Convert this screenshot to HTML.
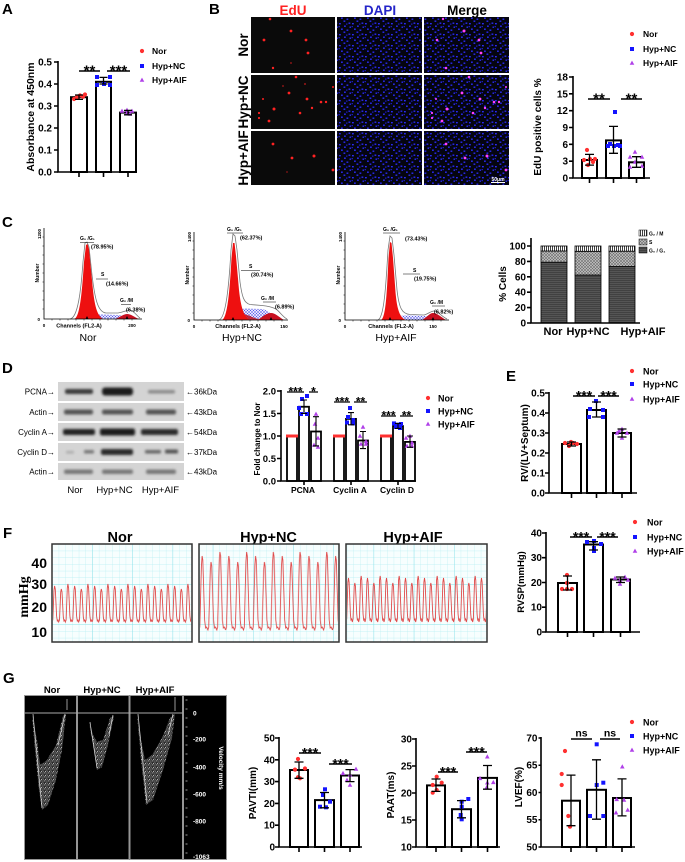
<!DOCTYPE html>
<html><head><meta charset="utf-8"><style>
html,body{margin:0;padding:0;background:#fff;}
svg{display:block;}
text{font-family:"Liberation Sans",Arial,sans-serif;}
.b{font-weight:bold;}
.s{font-family:"Liberation Serif","Times New Roman",serif;font-weight:bold;}
</style></head><body>
<svg width="685" height="862" viewBox="0 0 685 862" xmlns="http://www.w3.org/2000/svg">
<defs>
<circle id="mr" r="2.1" fill="#ff3030"/>
<rect id="mb" x="-2" y="-2" width="4" height="4" fill="#1414ff"/>
<polygon id="mp" points="-2.3,1.8 2.3,1.8 0,-2.4" fill="#b040e8"/>
<pattern id="dapi" width="13" height="11" patternUnits="userSpaceOnUse">
<rect width="13" height="11" fill="#050510"/>
<g fill="#2a2af5"><rect x="1" y="1" width="1.8" height="1.4"/><rect x="6" y="3.5" width="1.8" height="1.4"/><rect x="10.5" y="0.5" width="1.8" height="1.4"/><rect x="3" y="6.5" width="1.8" height="1.4"/><rect x="8.5" y="7.5" width="1.8" height="1.4"/><rect x="11.5" y="4.5" width="1.6" height="1.4"/><rect x="5.5" y="9.5" width="1.8" height="1.4"/></g>
<g fill="#1c1cb8"><rect x="0.5" y="4" width="1.5" height="1.2"/><rect x="8" y="1.5" width="1.5" height="1.2"/></g>
</pattern>
<pattern id="hatch" width="3" height="3" patternUnits="userSpaceOnUse">
<rect width="3" height="3" fill="#e8e8ff"/><path d="M0,3L3,0M0,0L3,3" stroke="#5a5ae8" stroke-width="0.5"/>
</pattern>
<pattern id="pG1" width="2" height="2" patternUnits="userSpaceOnUse"><rect width="2" height="2" fill="#555"/><rect width="2" height="0.7" fill="#383838"/></pattern>
<pattern id="pS" width="3" height="3" patternUnits="userSpaceOnUse"><rect width="3" height="3" fill="#c4c4c4"/><path d="M0,3L3,0M0,0L3,3" stroke="#6a6a6a" stroke-width="0.6"/></pattern>
<pattern id="pG2" width="2" height="2" patternUnits="userSpaceOnUse"><rect width="2" height="2" fill="#fff"/><rect width="0.8" height="2" fill="#111"/></pattern>
<filter id="bl" x="-20%" y="-100%" width="140%" height="300%"><feGaussianBlur stdDeviation="1.3"/></filter>
<pattern id="gridS" width="6.7" height="6.7" patternUnits="userSpaceOnUse" x="52" y="544"><rect width="6.7" height="6.7" fill="#f7fefe"/><path d="M0,0H6.7M0,0V6.7" stroke="#b4eef2" stroke-width="0.6"/></pattern>
<pattern id="gridL" width="40.2" height="40.2" patternUnits="userSpaceOnUse" x="52" y="544"><path d="M0,0H40.2M0,0V40.2" stroke="#7edfe8" stroke-width="0.8" fill="none"/></pattern>
<pattern id="wNor" width="20" height="862" patternUnits="userSpaceOnUse" x="52" y="0"><path d="M0,622 L0.8,620 L2,590 L2.6,586 L3.3,589 L4.6,616 L5.3,621 L6,620 L6.667,622 L7.5,620 L8.7,592 L9.3,589 L10,592 L11.3,617 L12,621 L12.7,620 L13.333,622 L14.1,620 L15.3,588 L15.9,584 L16.6,588 L17.9,616 L18.6,621 L19.3,620 L20,622" stroke="#e04a4a" stroke-width="0.9" fill="none"/></pattern>
<pattern id="wNC" width="26.7" height="862" patternUnits="userSpaceOnUse" x="199" y="0"><path d="M0,630 L0.8,627 L2.4,566 L3.1,556 L3.8,560 L5.6,620 L6.6,628 L7.5,627 L8.9,630 L9.7,627 L11.3,570 L12,562 L12.7,566 L14.5,620 L15.5,628 L16.4,627 L17.8,630 L18.6,627 L20.2,562 L20.9,552 L21.6,556 L23.4,620 L24.4,628 L25.3,627 L26.7,630" stroke="#e04a4a" stroke-width="0.9" fill="none"/></pattern>
<pattern id="wAIF" width="19" height="862" patternUnits="userSpaceOnUse" x="346" y="0"><path d="M0,622 L0.7,619 L1.9,582 L2.5,578 L3.1,582 L4.4,614 L5,620 L5.7,619 L6.333,622 L7.033,619 L8.233,586 L8.833,583 L9.433,586 L10.733,614 L11.333,620 L12.033,619 L12.667,622 L13.367,619 L14.567,580 L15.167,576 L15.767,580 L17.067,614 L17.667,620 L18.367,619 L19,622" stroke="#e04a4a" stroke-width="0.9" fill="none"/></pattern>
<pattern id="spk" width="4" height="4" patternUnits="userSpaceOnUse"><rect width="4" height="4" fill="#2a2a2a"/><rect x="0.3" y="0.4" width="1" height="1" fill="#e0e0e0"/><rect x="2.4" y="1.5" width="1" height="1" fill="#b0b0b0"/><rect x="1.1" y="2.9" width="1" height="1" fill="#cfcfcf"/><rect x="3.1" y="3.2" width="0.8" height="0.8" fill="#888"/><rect x="2.6" y="0" width="0.7" height="0.7" fill="#999"/></pattern>
</defs>
<rect width="685" height="862" fill="#fff"/>

<!-- ============ PANEL A ============ -->
<text x="2" y="14" class="b" font-size="15">A</text>
<text transform="translate(34,117) rotate(-90)" text-anchor="middle" class="b" font-size="10.5">Absorbance at 450nm</text>
<g class="b" font-size="10" text-anchor="end">
<text x="52" y="175.5">0.0</text><text x="52" y="153.5">0.1</text><text x="52" y="131.5">0.2</text><text x="52" y="109.5">0.3</text><text x="52" y="87.5">0.4</text><text x="52" y="65.5">0.5</text>
</g>
<g fill="#fff" stroke="#000" stroke-width="2">
<rect x="71" y="97.2" width="16" height="74.8"/><rect x="96" y="81.8" width="15" height="90.2"/><rect x="120" y="112.6" width="16" height="59.4"/>
</g>
<g stroke="#000" stroke-width="1.6" fill="none">
<path d="M58,61V172H137"/>
<path d="M54,172H58M54,150H58M54,128H58M54,106H58M54,84H58M54,62H58"/>
<path d="M79,172v5M103.5,172v5M128,172v5"/>
</g>
<use href="#mr" x="74" y="99"/><use href="#mr" x="77" y="97"/><use href="#mr" x="80" y="95.5"/><use href="#mr" x="83" y="96.8"/><use href="#mr" x="85" y="94.5"/>
<use href="#mb" x="97" y="77"/><use href="#mb" x="110" y="77"/><use href="#mb" x="97" y="85"/><use href="#mb" x="110" y="85"/><use href="#mb" x="104" y="84"/>
<use href="#mp" x="122" y="111"/><use href="#mp" x="127" y="113"/><use href="#mp" x="132" y="111"/><use href="#mp" x="127" y="110"/><use href="#mp" x="130" y="114"/>
<g stroke="#000" stroke-width="1.3" fill="none">
<path d="M79,99.4V95M75,99.4H83M75,95H83"/>
<path d="M103.5,84V77.4M99.5,84H107.5M99.5,77.4H107.5"/>
<path d="M128,114.8V110.4M124,114.8H132M124,110.4H132"/>
<path d="M79,71H100M107,71H130" stroke-width="1.5"/>
</g>
<g class="b" font-size="15" text-anchor="middle"><text x="89.5" y="75.5">**</text><text x="118.5" y="75.5">***</text></g>
<use href="#mr" x="142" y="51"/><use href="#mb" x="142" y="66"/><use href="#mp" x="142" y="80"/>
<g class="b" font-size="8.5"><text x="152" y="54">Nor</text><text x="152" y="69">Hyp+NC</text><text x="152" y="83">Hyp+AIF</text></g>

<!-- ============ PANEL B ============ -->
<text x="209" y="14" class="b" font-size="15">B</text>
<g class="b" font-size="13.5" text-anchor="middle">
<text x="293" y="15" fill="#ff2020">EdU</text><text x="380" y="15" fill="#2424c8">DAPI</text><text x="467" y="15" fill="#000">Merge</text>
</g>
<g class="b" font-size="13.5" text-anchor="middle">
<text transform="translate(248,45) rotate(-90)">Nor</text>
<text transform="translate(248,102) rotate(-90)">Hyp+NC</text>
<text transform="translate(248,158) rotate(-90)">Hyp+AIF</text>
</g>
<g fill="#0a0a0a">
<rect x="251" y="17" width="84" height="56"/><rect x="251" y="75" width="84" height="54"/><rect x="251" y="131" width="84" height="54"/>
</g>
<g fill="url(#dapi)">
<rect x="337" y="17" width="85" height="56"/><rect x="337" y="75" width="85" height="54"/><rect x="337" y="131" width="85" height="54"/>
<rect x="424" y="17" width="85" height="56"/><rect x="424" y="75" width="85" height="54"/><rect x="424" y="131" width="85" height="54"/>
</g>
<g fill="#ff2222">
<circle cx="270" cy="19" r="1.3"/><circle cx="291" cy="31" r="1.4"/><circle cx="264" cy="40" r="1.4"/><circle cx="306" cy="40" r="1.4"/><circle cx="308" cy="53" r="1.4"/><circle cx="273" cy="68" r="1.2"/><circle cx="291" cy="63" r="1" opacity=".5"/>
<circle cx="296" cy="77" r="1.3"/><circle cx="289" cy="93" r="1.4"/><circle cx="263" cy="99" r="1"/><circle cx="307" cy="99" r="1.4"/><circle cx="274" cy="109" r="1.5"/><circle cx="300" cy="113" r="1.3"/><circle cx="312" cy="108" r="1.2"/><circle cx="321" cy="102" r="1.3"/><circle cx="326" cy="102" r="1.2"/><circle cx="259" cy="113" r="1.1"/><circle cx="259" cy="118" r="1.1"/><circle cx="269" cy="121" r="1.4"/><circle cx="333" cy="87" r="1"/><circle cx="283" cy="86" r="1" opacity=".5"/><circle cx="305" cy="84" r="1" opacity=".6"/>
<circle cx="273" cy="144" r="1.4"/><circle cx="292" cy="158" r="1.4"/><circle cx="314" cy="156" r="1.5"/><circle cx="333" cy="170" r="1.4"/><circle cx="287" cy="172" r="1" opacity=".4"/>
</g>
<g fill="#ff40ff">
<circle cx="443" cy="19" r="1.2"/><circle cx="464" cy="31" r="1.5"/><circle cx="437" cy="40" r="1.3"/><circle cx="479" cy="40" r="1.4"/><circle cx="481" cy="53" r="1.4"/><circle cx="446" cy="68" r="1.3"/>
<circle cx="469" cy="77" r="1.3"/><circle cx="462" cy="93" r="1.4"/><circle cx="436" cy="99" r="1"/><circle cx="480" cy="99" r="1.4"/><circle cx="447" cy="109" r="1.5"/><circle cx="473" cy="113" r="1.3"/><circle cx="485" cy="108" r="1.2"/><circle cx="494" cy="102" r="1.3"/><circle cx="499" cy="102" r="1.2"/><circle cx="432" cy="113" r="1.1"/><circle cx="432" cy="118" r="1.1"/><circle cx="442" cy="121" r="1.4"/><circle cx="506" cy="87" r="1"/>
<circle cx="446" cy="144" r="1.4"/><circle cx="465" cy="158" r="1.4"/><circle cx="487" cy="156" r="1.5"/><circle cx="506" cy="170" r="1.4"/>
</g>
<path d="M491,182.5H505" stroke="#fff" stroke-width="1"/>
<text x="498" y="181" fill="#fff" font-size="5" class="b" text-anchor="middle">50μm</text>

<text transform="translate(541,127) rotate(-90)" text-anchor="middle" class="b" font-size="10">EdU positive cells %</text>
<g class="b" font-size="10" text-anchor="end">
<text x="568" y="181.5">0</text><text x="568" y="164.7">3</text><text x="568" y="147.8">6</text><text x="568" y="131">9</text><text x="568" y="114.2">12</text><text x="568" y="97.3">15</text><text x="568" y="80.5">18</text>
</g>
<g fill="#fff" stroke="#000" stroke-width="2">
<rect x="582" y="160" width="15" height="18"/><rect x="606" y="140.4" width="15" height="37.6"/><rect x="629" y="162.3" width="15" height="15.7"/>
</g>
<g stroke="#000" stroke-width="1.6" fill="none">
<path d="M573,76V178H650"/>
<path d="M569,178H573M569,161.2H573M569,144.3H573M569,127.5H573M569,110.7H573M569,93.8H573M569,77H573"/>
<path d="M589.5,178v5M613.5,178v5M636.5,178v5"/>
</g>
<use href="#mr" x="587" y="150"/><use href="#mr" x="584" y="160"/><use href="#mr" x="590" y="159"/><use href="#mr" x="595" y="159"/><use href="#mr" x="588" y="165"/><use href="#mr" x="593" y="162"/>
<use href="#mb" x="615" y="112"/><use href="#mb" x="610" y="144"/><use href="#mb" x="614" y="146"/><use href="#mb" x="618" y="145"/><use href="#mb" x="608" y="146"/><use href="#mb" x="620" y="146"/>
<use href="#mp" x="635" y="152"/><use href="#mp" x="630" y="157"/><use href="#mp" x="642" y="157"/><use href="#mp" x="635" y="162"/><use href="#mp" x="630" y="167"/><use href="#mp" x="642" y="166"/>
<g stroke="#000" stroke-width="1.3" fill="none">
<path d="M589.5,165.1V154.4M585,165.1H594M585,154.4H594"/>
<path d="M613.5,153.3V126.4M609,153.3H618M609,126.4H618"/>
<path d="M636.5,167.3V156.7M632,167.3H641M632,156.7H641"/>
<path d="M588,99H610M621,99H642" stroke-width="1.5"/>
</g>
<g class="b" font-size="15" text-anchor="middle"><text x="599" y="103.5">**</text><text x="631.5" y="103.5">**</text></g>
<use href="#mr" x="632" y="34"/><use href="#mb" x="632" y="49"/><use href="#mp" x="632" y="63"/>
<g class="b" font-size="8.5"><text x="643" y="37">Nor</text><text x="643" y="52">Hyp+NC</text><text x="643" y="66">Hyp+AIF</text></g>

<!-- ============ PANEL C ============ -->
<text x="2" y="227" class="b" font-size="15">C</text>
<g>
<path d="M70,319 C78,318 81,290 83,262 L85,243 L87,242 L89,247 L92,275 C95,300 98,312 106,313 L118,313 C124,312 127,310 130,310 C134,311 137,316 140,318" fill="#fff" stroke="#777" stroke-width="0.8"/>
<path d="M88,319 C92,315 97,314 104,314.5 L118,315 C122,315 125,317 128,319 Z" fill="url(#hatch)"/>
<path d="M74,319 C80,318 82,292 84,262 L86,245 L87.5,244 L89,249 L92,280 C94,302 96,315 103,319 Z" fill="#ee1010"/>
<path d="M115,319 C120,317 124,314 127,314 C131,314 134,317 139,319 Z" fill="#c81020"/>
<path d="M44,228V319H142" stroke="#000" stroke-width="0.8" fill="none"/>
<path d="M42.5,237H44M42.5,246H44M42.5,255H44M42.5,264H44M42.5,273H44M42.5,282H44M42.5,291H44M42.5,300H44M42.5,309H44M52,319v1.5M60,319v1.5M68,319v1.5M76,319v1.5M84,319v1.5M92,319v1.5M100,319v1.5M108,319v1.5M116,319v1.5M124,319v1.5M132,319v1.5" stroke="#000" stroke-width="0.5"/>
<polygon points="85.5,319 88.5,319 87,316" fill="#000"/><polygon points="125.5,319 128.5,319 127,316" fill="#000"/>
<g class="b" font-size="5"><text transform="translate(41,234) rotate(-90)" text-anchor="middle" font-size="4.5">1200</text><text transform="translate(39,273) rotate(-90)" text-anchor="middle">Number</text><text x="40" y="321" text-anchor="end" font-size="4.5">0</text><text x="44" y="327" text-anchor="middle" font-size="4.5">0</text><text x="132" y="327" text-anchor="middle" font-size="4.5">200</text><text x="79" y="327.5" text-anchor="middle" font-size="5.5">Channels (FL2-A)</text>
<text x="80" y="240">G₀ /G₁</text><text x="91" y="248.5" font-size="5.5">(78.95%)</text><text x="101" y="276">S</text><text x="106" y="285.5" font-size="5.5">(14.66%)</text><text x="120" y="302">G₂ /M</text><text x="126" y="311.5" font-size="5.5">(6.38%)</text></g>
<path d="M80,242.5H94M96,279H108M121,304.5H131" stroke="#000" stroke-width="0.5"/>
</g>
<g>
<path d="M219,320 C226,318 229,285 231,250 L233,234 L235,236 L237,250 L240,282 C242,297 244,303 250,304.5 L262,305.5 C268,306 272,307 276,309 C280,312 283,317 287,319" fill="#fff" stroke="#777" stroke-width="0.8"/>
<path d="M230,320 C234,314 238,309 245,308.5 L262,309 C268,310 273,315 278,320 Z" fill="url(#hatch)"/>
<path d="M228,320 C236,316 240,313 244,314 L250,316 C254,318 258,319 262,320 Z" fill="#c01020" opacity=".85"/>
<path d="M222,320 C228,318 230,285 231.5,258 L233,243 L234.5,243 L236,256 L239,290 C241,308 244,317 250,320 Z" fill="#ee1010"/>
<path d="M258,320 C263,316 267,313 271,313 C275,313 279,317 284,320 Z" fill="#c81020"/>
<path d="M194,232V320H288" stroke="#000" stroke-width="0.8" fill="none"/>
<path d="M192.5,241H194M192.5,250H194M192.5,259H194M192.5,268H194M192.5,277H194M192.5,286H194M192.5,295H194M192.5,304H194M192.5,313H194M202,320v1.5M210,320v1.5M218,320v1.5M226,320v1.5M234,320v1.5M242,320v1.5M250,320v1.5M258,320v1.5M266,320v1.5M274,320v1.5M282,320v1.5" stroke="#000" stroke-width="0.5"/>
<polygon points="231.5,320 234.5,320 233,317" fill="#000"/><polygon points="269.5,320 272.5,320 271,317" fill="#000"/>
<g class="b" font-size="5"><text transform="translate(191,237) rotate(-90)" text-anchor="middle" font-size="4.5">1400</text><text transform="translate(189,275) rotate(-90)" text-anchor="middle">Number</text><text x="190" y="322" text-anchor="end" font-size="4.5">0</text><text x="194" y="328" text-anchor="middle" font-size="4.5">0</text><text x="284" y="328" text-anchor="middle" font-size="4.5">150</text><text x="238" y="328" text-anchor="middle" font-size="5.5">Channels (FL2-A)</text>
<text x="227" y="231">G₀ /G₁</text><text x="240" y="239.5" font-size="5.5">(62.37%)</text><text x="249" y="268">S</text><text x="251" y="276.5" font-size="5.5">(30.74%)</text><text x="261" y="300">G₂ /M</text><text x="275" y="308.5" font-size="5.5">(6.89%)</text></g>
<path d="M227,233H243M241,270.5H260M263,302H276" stroke="#000" stroke-width="0.5"/>
</g>
<g>
<path d="M378,320 C384,318 386,285 388,250 L390,236 L392,238 L394,255 L397,290 C399,308 402,314 410,314.5 L424,315 C428,314 431,311 434,311 C438,311 441,316 447,319" fill="#fff" stroke="#777" stroke-width="0.8"/>
<path d="M392,320 C396,316 400,315.5 408,315.5 L426,316 C430,316 432,318 434,320 Z" fill="url(#hatch)"/>
<path d="M381,320 C386,318 387,290 388.5,258 L390,242 L391.5,243 L393,258 L395.5,292 C397,310 400,318 406,320 Z" fill="#ee1010"/>
<path d="M422,320 C427,317 430,313 433,313 C437,313 441,317 446,320 Z" fill="#c81020"/>
<path d="M345,232V320H449" stroke="#000" stroke-width="0.8" fill="none"/>
<path d="M343.5,241H345M343.5,250H345M343.5,259H345M343.5,268H345M343.5,277H345M343.5,286H345M343.5,295H345M343.5,304H345M343.5,313H345M353,320v1.5M361,320v1.5M369,320v1.5M377,320v1.5M385,320v1.5M393,320v1.5M401,320v1.5M409,320v1.5M417,320v1.5M425,320v1.5M433,320v1.5M441,320v1.5" stroke="#000" stroke-width="0.5"/>
<polygon points="388.5,320 391.5,320 390,317" fill="#000"/><polygon points="431.5,320 434.5,320 433,317" fill="#000"/>
<g class="b" font-size="5"><text transform="translate(342,237) rotate(-90)" text-anchor="middle" font-size="4.5">1400</text><text transform="translate(340,275) rotate(-90)" text-anchor="middle">Number</text><text x="341" y="322" text-anchor="end" font-size="4.5">0</text><text x="345" y="328" text-anchor="middle" font-size="4.5">0</text><text x="433" y="328" text-anchor="middle" font-size="4.5">150</text><text x="391" y="328" text-anchor="middle" font-size="5.5">Channels (FL2-A)</text>
<text x="383" y="231">G₀ /G₁</text><text x="405" y="240.5" font-size="5.5">(73.43%)</text><text x="413" y="272">S</text><text x="414" y="280.5" font-size="5.5">(19.75%)</text><text x="430" y="304">G₂ /M</text><text x="434" y="313.5" font-size="5.5">(6.82%)</text></g>
<path d="M383,233H400M403,274H420M432,306H445" stroke="#000" stroke-width="0.5"/>
</g>
<g font-size="10.5" text-anchor="middle"><text x="88" y="341">Nor</text><text x="242" y="341">Hyp+NC</text><text x="396" y="341">Hyp+AIF</text></g>

<text transform="translate(506,284) rotate(-90)" text-anchor="middle" class="b" font-size="10">% Cells</text>
<g class="b" font-size="10" text-anchor="end">
<text x="526" y="326.5">0</text><text x="526" y="311">20</text><text x="526" y="295.7">40</text><text x="526" y="280.3">60</text><text x="526" y="264.9">80</text><text x="526" y="249.5">100</text>
</g>
<g stroke="#000" stroke-width="0.8">
<rect x="541" y="262.2" width="26" height="60.8" fill="url(#pG1)"/><rect x="541" y="251" width="26" height="11.2" fill="url(#pS)"/><rect x="541" y="246" width="26" height="5" fill="url(#pG2)"/>
<rect x="575" y="275" width="26" height="48" fill="url(#pG1)"/><rect x="575" y="251.3" width="26" height="23.7" fill="url(#pS)"/><rect x="575" y="246" width="26" height="5.3" fill="url(#pG2)"/>
<rect x="609" y="266.5" width="26" height="56.5" fill="url(#pG1)"/><rect x="609" y="251.2" width="26" height="15.3" fill="url(#pS)"/><rect x="609" y="246" width="26" height="5.2" fill="url(#pG2)"/>
</g>
<g stroke="#000" stroke-width="1.6" fill="none">
<path d="M531,238V323H640"/>
<path d="M527,323H531M527,307.6H531M527,292.2H531M527,276.8H531M527,261.4H531M527,246H531"/>
</g>
<g class="b" font-size="11" text-anchor="middle"><text x="553" y="335">Nor</text><text x="588" y="335">Hyp+NC</text><text x="643" y="335">Hyp+AIF</text></g>
<g stroke="#000" stroke-width="0.5"><rect x="639" y="230" width="8" height="6" fill="url(#pG2)"/><rect x="639" y="239" width="8" height="6" fill="url(#pS)"/><rect x="639" y="247" width="8" height="6" fill="url(#pG1)"/></g>
<g class="b" font-size="5"><text x="649" y="235.5">G₂ / M</text><text x="649" y="244">S</text><text x="649" y="252.5">G₀ / G₁</text></g>

<!-- ============ PANEL D ============ -->
<text x="2" y="373" class="b" font-size="15">D</text>
<g fill="#d4d4d4">
<rect x="58" y="382" width="126" height="19"/><rect x="58" y="403" width="126" height="18"/><rect x="58" y="423" width="126" height="18"/><rect x="58" y="443" width="126" height="18"/><rect x="58" y="463" width="126" height="17"/>
</g>
<g filter="url(#bl)">
<rect x="65" y="389" width="28" height="5" rx="2" fill="#3a3a3a"/><rect x="102" y="387.5" width="31" height="8" rx="3" fill="#1e1e1e"/><rect x="148" y="390" width="27" height="3.5" rx="1.5" fill="#8a8a8a"/>
<rect x="64" y="409.5" width="29" height="5" rx="2" fill="#555"/><rect x="102" y="409.5" width="31" height="5" rx="2" fill="#555"/><rect x="146" y="409.5" width="30" height="5" rx="2" fill="#555"/>
<rect x="63" y="429" width="32" height="6" rx="2" fill="#222"/><rect x="100" y="428.5" width="35" height="7" rx="2" fill="#1a1a1a"/><rect x="141" y="429" width="37" height="6" rx="2" fill="#2a2a2a"/>
<rect x="66" y="451" width="8" height="2.5" rx="1" fill="#aaa"/><rect x="84" y="450" width="10" height="3.5" rx="1" fill="#777"/><rect x="101" y="449" width="32" height="6" rx="2" fill="#2a2a2a"/><rect x="145" y="450" width="16" height="3.5" rx="1" fill="#666"/><rect x="165" y="449.5" width="13" height="4" rx="1" fill="#555"/>
<rect x="64" y="469.5" width="29" height="4.5" rx="2" fill="#777"/><rect x="102" y="469.5" width="31" height="4.5" rx="2" fill="#777"/><rect x="146" y="469.5" width="30" height="4.5" rx="2" fill="#777"/>
</g>
<g font-size="8" text-anchor="end"><text x="55" y="394.5">PCNA→</text><text x="55" y="415">Actin→</text><text x="55" y="435">Cyclin A→</text><text x="55" y="455">Cyclin D→</text><text x="55" y="474.5">Actin→</text></g>
<g font-size="8"><text x="186" y="394.5">←36kDa</text><text x="186" y="415">←43kDa</text><text x="186" y="435">←54kDa</text><text x="186" y="455">←37kDa</text><text x="186" y="474.5">←43kDa</text></g>
<g font-size="9.5" text-anchor="middle"><text x="75" y="493">Nor</text><text x="114.5" y="493">Hyp+NC</text><text x="160.5" y="493">Hyp+AIF</text></g>

<text transform="translate(260,439) rotate(-90)" text-anchor="middle" class="b" font-size="8">Fold change to Nor</text>
<g class="b" font-size="9.5" text-anchor="end">
<text x="276" y="484.5">0.0</text><text x="276" y="462">0.5</text><text x="276" y="439.5">1.0</text><text x="276" y="417">1.5</text><text x="276" y="394.5">2.0</text>
</g>
<g fill="#fff" stroke="#000" stroke-width="1.8">
<rect x="287" y="436" width="10" height="45"/><rect x="299" y="406.75" width="10" height="74.25"/><rect x="311" y="431.5" width="10" height="49.5"/>
<rect x="334" y="436" width="10" height="45"/><rect x="346" y="418.9" width="10" height="62.1"/><rect x="358" y="440.5" width="10" height="40.5"/>
<rect x="381" y="436" width="10" height="45"/><rect x="393" y="426.1" width="10" height="54.9"/><rect x="405" y="441.9" width="10" height="39.1"/>
</g>
<g fill="#ff3030"><rect x="286" y="434.5" width="12" height="3"/><rect x="333" y="434.5" width="12" height="3"/><rect x="380" y="434.5" width="12" height="3"/></g>
<g stroke="#000" stroke-width="1.6" fill="none">
<path d="M281,390V481H416"/>
<path d="M277,481H281M277,458.5H281M277,436H281M277,413.5H281M277,391H281"/>
<path d="M304,481v4M351,481v4M398,481v4"/>
</g>
<use href="#mb" x="302" y="399"/><use href="#mb" x="307" y="396"/><use href="#mb" x="299" y="408"/><use href="#mb" x="301" y="414"/><use href="#mb" x="307" y="414"/>
<use href="#mp" x="316" y="414"/><use href="#mp" x="315" y="424"/><use href="#mp" x="318" y="438"/><use href="#mp" x="314" y="445"/><use href="#mp" x="318" y="447"/>
<use href="#mb" x="350" y="408"/><use href="#mb" x="348" y="417"/><use href="#mb" x="353" y="420"/><use href="#mb" x="347" y="422.5"/><use href="#mb" x="353" y="423.4"/>
<use href="#mp" x="363" y="427"/><use href="#mp" x="360" y="436"/><use href="#mp" x="366" y="441.4"/><use href="#mp" x="361" y="444"/><use href="#mp" x="366" y="444"/>
<use href="#mb" x="394" y="423.4"/><use href="#mb" x="397" y="424.75"/><use href="#mb" x="401" y="424"/><use href="#mb" x="396" y="427"/><use href="#mb" x="400" y="428"/>
<use href="#mp" x="410" y="436"/><use href="#mp" x="406" y="438"/><use href="#mp" x="412" y="442.75"/><use href="#mp" x="407" y="446"/><use href="#mp" x="412" y="446"/>
<g stroke="#000" stroke-width="1.1" fill="none">
<path d="M304,413.5V400M301,413.5H307M301,400H307"/>
<path d="M316,445.9V416.7M313,445.9H319M313,416.7H319"/>
<path d="M351,424.8V412.6M348,424.8H354M348,412.6H354"/>
<path d="M363,448.6V431.5M360,448.6H366M360,431.5H366"/>
<path d="M398,428.4V423.4M395,428.4H401M395,423.4H401"/>
<path d="M410,447.3V436M407,447.3H413M407,436H413"/>
<path d="M287,392H304M309,392H318M334,402H350M354,402H367M381,416H396M400,416H413" stroke-width="1.3"/>
</g>
<g class="b" font-size="12" text-anchor="middle"><text x="295.5" y="395.5">***</text><text x="313.5" y="395.5">*</text><text x="342" y="405.5">***</text><text x="360.5" y="405.5">**</text><text x="388.5" y="419.5">***</text><text x="406.5" y="419.5">**</text></g>
<g class="b" font-size="8.5" text-anchor="middle"><text x="303" y="493">PCNA</text><text x="350" y="493">Cyclin A</text><text x="397" y="493">Cyclin D</text></g>
<use href="#mr" x="428" y="398"/><use href="#mb" x="428" y="411"/><use href="#mp" x="428" y="424"/>
<g class="b" font-size="9"><text x="438" y="401.5">Nor</text><text x="438" y="414.5">Hyp+NC</text><text x="438" y="427.5">Hyp+AIF</text></g>

<!-- ============ PANEL E ============ -->
<text x="506" y="381" class="b" font-size="15">E</text>
<text transform="translate(528,443) rotate(-90)" text-anchor="middle" class="b" font-size="10">RV/(LV+Septum)</text>
<g class="b" font-size="10" text-anchor="end">
<text x="545" y="496.5">0.0</text><text x="545" y="476.5">0.1</text><text x="545" y="456.5">0.2</text><text x="545" y="436.5">0.3</text><text x="545" y="416.5">0.4</text><text x="545" y="396.5">0.5</text>
</g>
<g fill="#fff" stroke="#000" stroke-width="2">
<rect x="562" y="444" width="19" height="49"/><rect x="587" y="410" width="19" height="83"/><rect x="613" y="433" width="18" height="60"/>
</g>
<g stroke="#000" stroke-width="1.6" fill="none">
<path d="M549,392V493H637"/>
<path d="M545,493H549M545,473H549M545,453H549M545,433H549M545,413H549M545,393H549"/>
<path d="M571.5,493v5M596.5,493v5M622,493v5"/>
</g>
<use href="#mr" x="565" y="443"/><use href="#mr" x="569" y="446"/><use href="#mr" x="573" y="443"/><use href="#mr" x="577" y="444"/><use href="#mr" x="571" y="442"/>
<use href="#mb" x="596" y="401"/><use href="#mb" x="590" y="409"/><use href="#mb" x="603" y="410"/><use href="#mb" x="589" y="417"/><use href="#mb" x="603" y="417"/>
<use href="#mp" x="622" y="429"/><use href="#mp" x="617" y="433"/><use href="#mp" x="627" y="433"/><use href="#mp" x="622" y="438"/><use href="#mp" x="619" y="431"/>
<g stroke="#000" stroke-width="1.3" fill="none">
<path d="M571.5,446V442M567,446H576M567,442H576"/>
<path d="M596.5,417V402M592,417H601M592,402H601"/>
<path d="M622,437V429M617.5,437H626.5M617.5,429H626.5"/>
<path d="M573,396H595M598,396H619" stroke-width="1.5"/>
</g>
<g class="b" font-size="14" text-anchor="middle"><text x="584" y="400.5">***</text><text x="608.5" y="400.5">***</text></g>
<use href="#mr" x="632" y="371"/><use href="#mb" x="632" y="384"/><use href="#mp" x="632" y="399"/>
<g class="b" font-size="9"><text x="643" y="374.5">Nor</text><text x="643" y="387.5">Hyp+NC</text><text x="643" y="402.5">Hyp+AIF</text></g>

<!-- ============ PANEL F ============ -->
<text x="3" y="538" class="b" font-size="15">F</text>
<g class="b" font-size="14.5" text-anchor="middle"><text x="120" y="542">Nor</text><text x="268.5" y="542">Hyp+NC</text><text x="413" y="542">Hyp+AIF</text></g>
<g class="s" font-size="14" text-anchor="end"><text x="47" y="568">40</text><text x="47" y="589">30</text><text x="47" y="612">20</text><text x="47" y="637">10</text></g>
<text transform="translate(28,597) rotate(-90)" text-anchor="middle" class="s" font-size="14">mmHg</text>
<rect x="52" y="544" width="140" height="98" fill="url(#gridS)"/><rect x="52" y="544" width="140" height="98" fill="url(#gridL)"/>
<rect x="199" y="544" width="140" height="98" fill="url(#gridS)"/><rect x="199" y="544" width="140" height="98" fill="url(#gridL)"/>
<rect x="346" y="544" width="141" height="98" fill="url(#gridS)"/><rect x="346" y="544" width="141" height="98" fill="url(#gridL)"/>
<rect x="53" y="545" width="138" height="96" fill="url(#wNor)"/>
<rect x="200" y="545" width="138" height="96" fill="url(#wNC)"/>
<rect x="347" y="545" width="139" height="96" fill="url(#wAIF)"/>
<g fill="none" stroke="#333" stroke-width="1.5"><rect x="52" y="544" width="140" height="98"/><rect x="199" y="544" width="140" height="98"/><rect x="346" y="544" width="141" height="98"/></g>

<text transform="translate(524,582) rotate(-90)" text-anchor="middle" class="b" font-size="9.5">RVSP(mmHg)</text>
<g class="b" font-size="10" text-anchor="end">
<text x="542" y="635.5">0</text><text x="542" y="610.7">10</text><text x="542" y="586">20</text><text x="542" y="561.2">30</text><text x="542" y="536.5">40</text>
</g>
<g fill="#fff" stroke="#000" stroke-width="2">
<rect x="558" y="583" width="19" height="49"/><rect x="584" y="544.5" width="19" height="87.5"/><rect x="611" y="579.5" width="19" height="52.5"/>
</g>
<g stroke="#000" stroke-width="1.6" fill="none">
<path d="M546,532V632H640"/>
<path d="M542,632H546M542,607.2H546M542,582.5H546M542,557.7H546M542,533H546"/>
<path d="M567.5,632v5M593.5,632v5M620.5,632v5"/>
</g>
<use href="#mr" x="567" y="575"/><use href="#mr" x="567" y="583"/><use href="#mr" x="562" y="589"/><use href="#mr" x="572" y="589"/><use href="#mr" x="567" y="589"/>
<use href="#mb" x="587" y="542"/><use href="#mb" x="594" y="541"/><use href="#mb" x="601" y="544"/><use href="#mb" x="594" y="548"/><use href="#mb" x="594" y="551"/>
<use href="#mp" x="625" y="577"/><use href="#mp" x="615" y="578"/><use href="#mp" x="620" y="580"/><use href="#mp" x="628" y="580"/><use href="#mp" x="620" y="584"/>
<g stroke="#000" stroke-width="1.3" fill="none">
<path d="M567.5,590V576M563,590H572M563,576H572"/>
<path d="M593.5,550V541.7M589,550H598M589,541.7H598"/>
<path d="M620.5,582.5V577M616,582.5H625M616,577H625"/>
<path d="M570,537H592M597,537H618" stroke-width="1.5"/>
</g>
<g class="b" font-size="14" text-anchor="middle"><text x="581" y="541.5">***</text><text x="607.5" y="541.5">***</text></g>
<use href="#mr" x="635" y="522"/><use href="#mb" x="635" y="537"/><use href="#mp" x="635" y="551"/>
<g class="b" font-size="9"><text x="647" y="525.5">Nor</text><text x="647" y="540.5">Hyp+NC</text><text x="647" y="554.5">Hyp+AIF</text></g>

<!-- ============ PANEL G ============ -->
<text x="3" y="683" class="b" font-size="15">G</text>
<g class="s" font-size="9.5" text-anchor="middle"><text x="52" y="693">Nor</text><text x="102" y="693">Hyp+NC</text><text x="155" y="693">Hyp+AIF</text></g>
<rect x="24" y="695" width="203" height="165" fill="#000"/>
<g stroke="#bbb" stroke-width="0.8" fill="none">
<rect x="24.5" y="695.5" width="52" height="164"/><rect x="77.5" y="695.5" width="51.5" height="164"/><rect x="130" y="695.5" width="52.5" height="164"/><rect x="183.5" y="695.5" width="43" height="164"/>
<path d="M24.5,713H182.5" stroke="#aaa" stroke-width="0.9"/>
</g>
<polygon points="32,714 35,750 39,790 42,810 48,805 56,780 62,750 66,714 63,716 56,745 47,760 40,765 37,740" fill="url(#spk)"/>
<polygon points="89,722 93,745 97,770 102,767 108,745 114,716 110,718 103,740 97,742 93,735" fill="url(#spk)"/>
<polygon points="137,714 141,760 146,805 153,800 163,770 172,738 175,714 170,718 162,738 152,755 145,760 141,740" fill="url(#spk)"/>
<g stroke="#ddd" stroke-width="0.7" fill="none"><path d="M33,714 L42,808M65,714 L58,745M90,722 L97,768M113,715 L109,735M138,714 L147,803M173,714 L168,735"/></g>
<path d="M67,699V710M175,697V711" stroke="#999" stroke-width="1"/>
<path d="M185.5,700h2M185.5,709h2M185.5,718h2M185.5,727h2M185.5,736h2M185.5,745h2M185.5,754h2M185.5,763h2M185.5,772h2M185.5,781h2M185.5,790h2M185.5,799h2M185.5,808h2M185.5,817h2M185.5,826h2M185.5,835h2M185.5,844h2M185.5,853h2" stroke="#ccc" stroke-width="0.7"/>
<g class="b" font-size="6.5" fill="#fff"><text x="193" y="715.5">0</text><text x="193" y="741.5">-200</text><text x="193" y="769.5">-400</text><text x="193" y="796.5">-600</text><text x="193" y="823.5">-800</text><text x="193" y="859">-1063</text></g>
<text transform="translate(219,768) rotate(90)" text-anchor="middle" class="b" font-size="6.5" fill="#fff">Velocity mm/s</text>

<!-- PAVTI -->
<text transform="translate(256,793) rotate(-90)" text-anchor="middle" class="b" font-size="10">PAVTI(mm)</text>
<g class="b" font-size="10" text-anchor="end">
<text x="275" y="850.5">0</text><text x="275" y="828.7">10</text><text x="275" y="806.9">20</text><text x="275" y="785.1">30</text><text x="275" y="763.3">40</text><text x="275" y="741.5">50</text>
</g>
<g fill="#fff" stroke="#000" stroke-width="2">
<rect x="290" y="770" width="18" height="77"/><rect x="315" y="800.1" width="19" height="46.9"/><rect x="341" y="775.5" width="18" height="71.5"/>
</g>
<g stroke="#000" stroke-width="1.6" fill="none">
<path d="M279,737V847H362"/>
<path d="M275,847H279M275,825.2H279M275,803.4H279M275,781.6H279M275,759.8H279M275,738H279"/>
<path d="M299,847v5M324.5,847v5M350,847v5"/>
</g>
<use href="#mr" x="298" y="759"/><use href="#mr" x="295" y="769.6"/><use href="#mr" x="305" y="768.5"/><use href="#mr" x="298" y="777.2"/><use href="#mr" x="300" y="778.3"/>
<use href="#mb" x="325" y="789.3"/><use href="#mb" x="323" y="795"/><use href="#mb" x="330" y="801.7"/><use href="#mb" x="320" y="806.7"/><use href="#mb" x="326" y="807.3"/>
<use href="#mp" x="343" y="773.3"/><use href="#mp" x="356" y="769"/><use href="#mp" x="350" y="775"/><use href="#mp" x="347" y="780"/><use href="#mp" x="350" y="785"/>
<g stroke="#000" stroke-width="1.3" fill="none">
<path d="M299,778.3V762M294.5,778.3H303.5M294.5,762H303.5"/>
<path d="M324.5,807.8V792.5M320,807.8H329M320,792.5H329"/>
<path d="M350,781.6V769.6M345.5,781.6H354.5M345.5,769.6H354.5"/>
<path d="M299,753H321M329,764H352" stroke-width="1.5"/>
</g>
<g class="b" font-size="14" text-anchor="middle"><text x="310" y="757.5">***</text><text x="340.5" y="768.5">***</text></g>

<!-- PAAT -->
<text transform="translate(394,795) rotate(-90)" text-anchor="middle" class="b" font-size="10">PAAT(ms)</text>
<g class="b" font-size="10" text-anchor="end">
<text x="412" y="850.5">10</text><text x="412" y="823.5">15</text><text x="412" y="796.5">20</text><text x="412" y="769.5">25</text><text x="412" y="742.5">30</text>
</g>
<g fill="#fff" stroke="#000" stroke-width="2">
<rect x="427" y="785.4" width="18" height="61.6"/><rect x="452" y="809.2" width="19" height="37.8"/><rect x="478" y="777.9" width="19" height="69.1"/>
</g>
<g stroke="#000" stroke-width="1.6" fill="none">
<path d="M416,738V847H500"/>
<path d="M412,847H416M412,820H416M412,793H416M412,766H416M412,739H416"/>
<path d="M436,847v5M461.5,847v5M487.5,847v5"/>
</g>
<use href="#mr" x="436.7" y="776.7"/><use href="#mr" x="441.7" y="782.7"/><use href="#mr" x="432.7" y="785"/><use href="#mr" x="436.7" y="790"/><use href="#mr" x="432.7" y="792.7"/>
<use href="#mb" x="468.3" y="799"/><use href="#mb" x="461.7" y="801.7"/><use href="#mb" x="461.7" y="806.7"/><use href="#mb" x="460.7" y="815"/><use href="#mb" x="461.7" y="819.3"/>
<use href="#mp" x="487.3" y="756.7"/><use href="#mp" x="480" y="778.3"/><use href="#mp" x="493.3" y="782.3"/><use href="#mp" x="487.3" y="782.7"/><use href="#mp" x="486.7" y="787.3"/>
<g stroke="#000" stroke-width="1.3" fill="none">
<path d="M436,791.4V779M431.5,791.4H440.5M431.5,779H440.5"/>
<path d="M461.5,817.8V800.6M457,817.8H466M457,800.6H466"/>
<path d="M487.5,789.2V765.5M483,789.2H492M483,765.5H492"/>
<path d="M438,772H458M466,752H487" stroke-width="1.5"/>
</g>
<g class="b" font-size="14" text-anchor="middle"><text x="448" y="776.5">***</text><text x="476.5" y="756.5">***</text></g>

<!-- LVEF -->
<text transform="translate(522,787) rotate(-90)" text-anchor="middle" class="b" font-size="10">LVEF(%)</text>
<g class="b" font-size="10" text-anchor="end">
<text x="537.5" y="850.5">50</text><text x="537.5" y="823.2">55</text><text x="537.5" y="796">60</text><text x="537.5" y="768.7">65</text><text x="537.5" y="741.5">70</text>
</g>
<g fill="#fff" stroke="#000" stroke-width="2">
<rect x="562" y="800.7" width="18" height="46.3"/><rect x="587" y="789.8" width="19" height="57.2"/><rect x="613" y="798" width="18" height="49"/>
</g>
<g stroke="#000" stroke-width="1.6" fill="none">
<path d="M541,737V847H635"/>
<path d="M538.5,847H541M538.5,819.75H541M538.5,792.5H541M538.5,765.25H541M538.5,738H541"/>
<path d="M571,847v5M596.5,847v5M622,847v5"/>
</g>
<use href="#mr" x="565" y="751"/><use href="#mr" x="561.7" y="774"/><use href="#mr" x="561.7" y="785"/><use href="#mr" x="568.3" y="816"/><use href="#mr" x="570" y="826.7"/>
<use href="#mb" x="596.7" y="744.3"/><use href="#mb" x="596.7" y="785"/><use href="#mb" x="603.3" y="782.7"/><use href="#mb" x="590" y="816"/><use href="#mb" x="603.3" y="816"/>
<use href="#mp" x="622.3" y="766.7"/><use href="#mp" x="616.7" y="799.3"/><use href="#mp" x="624" y="800"/><use href="#mp" x="616" y="812.7"/><use href="#mp" x="627.7" y="810"/>
<g stroke="#000" stroke-width="1.3" fill="none">
<path d="M571,825.7V775.1M566.5,825.7H575.5M566.5,775.1H575.5"/>
<path d="M596.5,819.2V759.8M592,819.2H601M592,759.8H601"/>
<path d="M622,815.9V778.9M617.5,815.9H626.5M617.5,778.9H626.5"/>
<path d="M571,739H592M600,739H620" stroke-width="1.5"/>
</g>
<g class="b" font-size="10.5" text-anchor="middle"><text x="581.5" y="736.5">ns</text><text x="610" y="736.5">ns</text></g>
<use href="#mr" x="632" y="722"/><use href="#mb" x="632" y="736"/><use href="#mp" x="632" y="750"/>
<g class="b" font-size="9"><text x="643" y="725.5">Nor</text><text x="643" y="739.5">Hyp+NC</text><text x="643" y="753.5">Hyp+AIF</text></g>
</svg>
</body></html>
